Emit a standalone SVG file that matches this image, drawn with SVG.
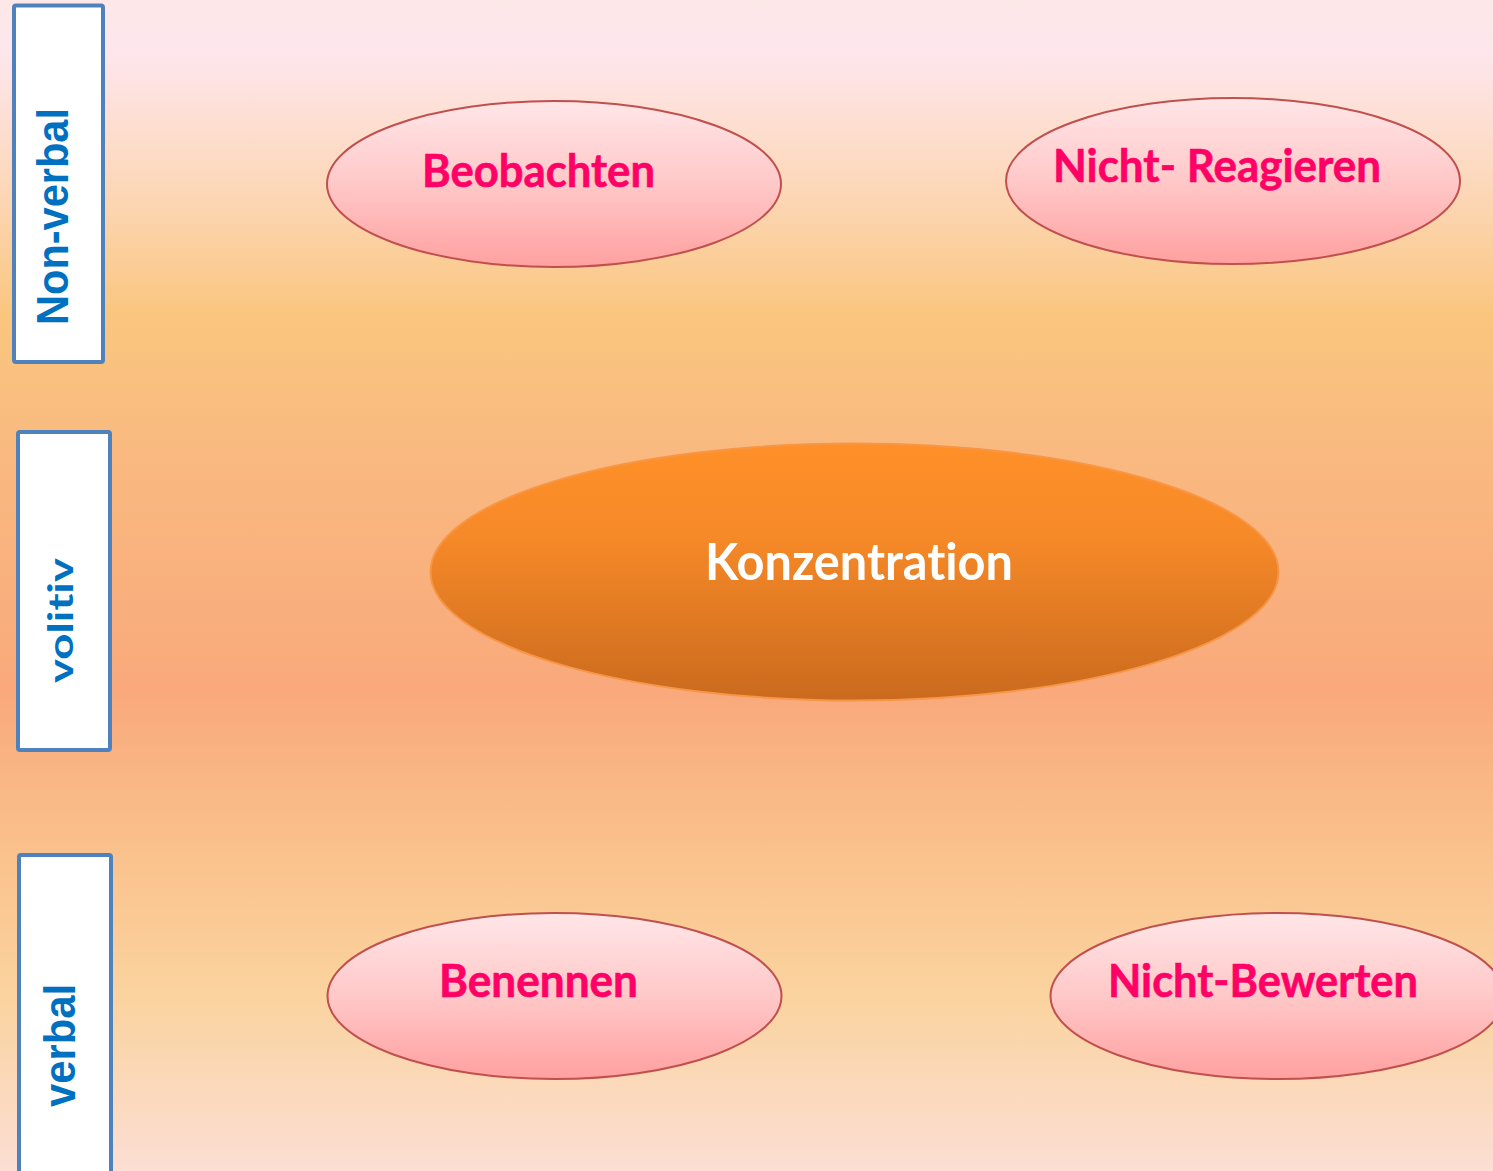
<svg xmlns="http://www.w3.org/2000/svg" width="1493" height="1171" viewBox="0 0 1493 1171">
<style>
text{font-variant-ligatures:none;font-feature-settings:"liga" 0,"clig" 0}
.box{fill:#FFFFFF;stroke:#4F81BD;stroke-width:4}
.side{font-family:"Liberation Sans",Arial,sans-serif;font-weight:bold;fill:#0070C0;text-anchor:middle}
.sidec{font-family:Lato,"Open Sans",sans-serif;font-weight:bold;fill:#0070C0;text-anchor:middle}
.pink{fill:url(#gPink);stroke:#C0504D;stroke-width:2}
.ptxt{font-family:Lato,"Open Sans",sans-serif;font-weight:bold;font-size:45px;fill:#FF0066;stroke:#FF0066;stroke-width:0.6}
.otxt{font-family:Lato,"Open Sans",sans-serif;font-weight:bold;font-size:51px;fill:#FFFFFF}
</style>
<defs>
<linearGradient id="gBg" x1="0" y1="0" x2="0" y2="1">
<stop offset="0" stop-color="#FDE8E8"/>
<stop offset="0.045" stop-color="#FEE6EC"/>
<stop offset="0.17" stop-color="#FCD6B4"/>
<stop offset="0.27" stop-color="#FAC67E"/>
<stop offset="0.38" stop-color="#F9BA80"/>
<stop offset="0.59" stop-color="#F9A97C"/>
<stop offset="0.75" stop-color="#FAC590"/>
<stop offset="0.85" stop-color="#FAD39E"/>
<stop offset="1" stop-color="#FCDED4"/>
</linearGradient>
<linearGradient id="gPink" x1="0" y1="0" x2="0" y2="1">
<stop offset="0" stop-color="#FFE6E8"/>
<stop offset="0.5" stop-color="#FFC8C8"/>
<stop offset="1" stop-color="#FFA0A0"/>
</linearGradient>
<linearGradient id="gOrange" x1="0" y1="0" x2="0" y2="1">
<stop offset="0" stop-color="#FF9029"/>
<stop offset="0.35" stop-color="#F78A28"/>
<stop offset="1" stop-color="#CA6A1E"/>
</linearGradient>
</defs>
<rect x="0" y="0" width="1493" height="1171" fill="url(#gBg)"/>
<g id="connectors"/>
<g id="label-nonverbal">
<rect class="box" x="14" y="5.5" width="89" height="356.5" rx="2"/>
<text class="side" font-size="45" transform="translate(68,216.5) rotate(-90)" x="0" y="0" textLength="217" lengthAdjust="spacingAndGlyphs">Non-verbal</text>
</g>
<g id="label-volitiv">
<rect class="box" x="18" y="432" width="92" height="318" rx="2"/>
<text class="sidec" font-size="35" transform="translate(73,620.5) rotate(-90)" x="0" y="0" textLength="125" lengthAdjust="spacingAndGlyphs">volitiv</text>
</g>
<g id="label-verbal">
<rect class="box" x="19" y="855" width="92" height="340" rx="2"/>
<text class="side" font-size="45" transform="translate(75,1045.5) rotate(-90)" x="0" y="0" textLength="123" lengthAdjust="spacingAndGlyphs">verbal</text>
</g>
<g id="node-beobachten">
<ellipse class="pink" cx="554" cy="184" rx="227" ry="83"/>
<text class="ptxt" x="422" y="187" textLength="233" lengthAdjust="spacingAndGlyphs">Beobachten</text>
</g>
<g id="node-nicht-reagieren">
<ellipse class="pink" cx="1233" cy="181" rx="227" ry="83"/>
<text class="ptxt" x="1053" y="182" textLength="328" lengthAdjust="spacingAndGlyphs">Nicht- Reagieren</text>
</g>
<g id="node-konzentration">
<ellipse cx="854.5" cy="572" rx="424" ry="128.5" fill="url(#gOrange)" stroke="#F79646" stroke-width="2"/>
<text class="otxt" x="705" y="580" textLength="308" lengthAdjust="spacingAndGlyphs">Konzentration</text>
</g>
<g id="node-benennen">
<ellipse class="pink" cx="554.5" cy="996" rx="227" ry="83"/>
<text class="ptxt" x="439" y="997" textLength="199" lengthAdjust="spacingAndGlyphs">Benennen</text>
</g>
<g id="node-nicht-bewerten">
<ellipse class="pink" cx="1277.5" cy="996" rx="227" ry="83"/>
<text class="ptxt" x="1108" y="997" textLength="310" lengthAdjust="spacingAndGlyphs">Nicht-Bewerten</text>
</g>
</svg>
